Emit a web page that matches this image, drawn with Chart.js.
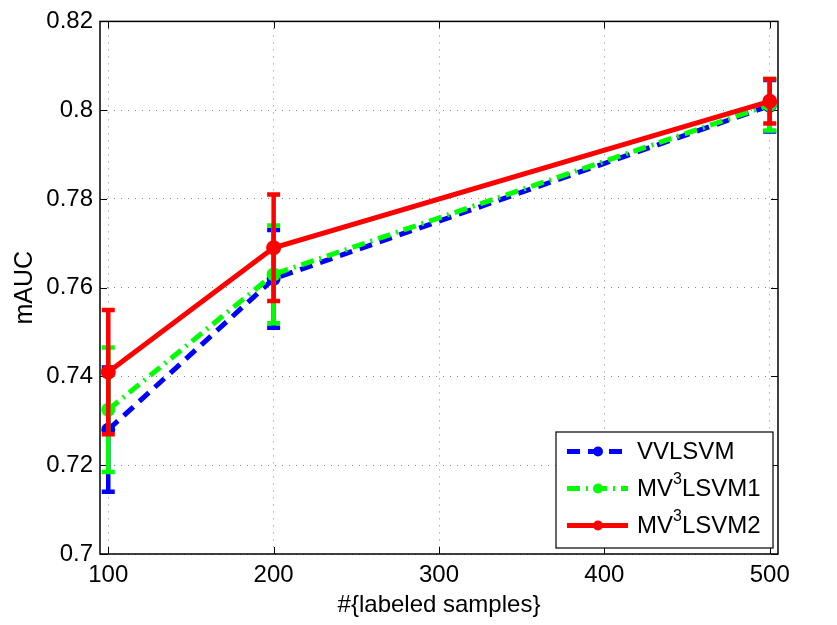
<!DOCTYPE html>
<html>
<head>
<meta charset="utf-8">
<script src="https://cdn.jsdelivr.net/npm/chart.js@4.4.1/dist/chart.umd.min.js"></script>
<style>
    html, body { margin: 0; padding: 0; background: #fff; }
    #wrap { width: 837px; height: 625px; }
</style>
</head>
<body>
<div id="wrap"><canvas id="aucChart"></canvas></div>
<script>
// =====================================
// mAUC vs #labeled samples (error bars)
// =====================================
const sampleSizes = [100, 200, 500];
const xTicks = [100, 200, 300, 400, 500];
const yTicks = [0.7, 0.72, 0.74, 0.76, 0.78, 0.8, 0.82];

const vvlsvm = [0.728, 0.762, 0.801];
const vvlsvmErr = [0.014, 0.011, 0.0058];
const mv3lsvm1 = [0.7325, 0.763, 0.8012];
const mv3lsvm1Err = [0.014, 0.011, 0.0058];
const mv3lsvm2 = [0.741, 0.769, 0.802];
const mv3lsvm2Err = [0.014, 0.012, 0.005];

// every second part is drawn as a superscript
const legendLabels = [["VVLSVM"], ["MV", "3", "LSVM1"], ["MV", "3", "LSVM2"]];

const family = "'Liberation Sans', Arial, Helvetica, sans-serif";
Chart.defaults.font.family = family;
Chart.defaults.color = "#000";

const points = vals => vals.map((v, i) => ({ x: sampleSizes[i], y: v }));

// vertical bars with caps, drawn right after each series
const errorBars = {
    id: "errorBars",
    afterDatasetDraw(chart, args) {
        const ds = chart.data.datasets[args.index];
        const yScale = chart.scales.y;
        const ctx = chart.ctx;
        ctx.save();
        ctx.strokeStyle = ds.borderColor;
        ctx.lineWidth = 4.5;
        ctx.setLineDash([]);
        args.meta.data.forEach((pt, i) => {
            const v = ds.data[i].y, e = ds.errors[i];
            const top = yScale.getPixelForValue(v + e);
            const bot = yScale.getPixelForValue(v - e);
            ctx.beginPath();
            ctx.moveTo(pt.x, top); ctx.lineTo(pt.x, bot);
            ctx.moveTo(pt.x - 6.5, top); ctx.lineTo(pt.x + 6.5, top);
            ctx.moveTo(pt.x - 6.5, bot); ctx.lineTo(pt.x + 6.5, bot);
            ctx.stroke();
        });
        ctx.restore();
    }
};

// matlab style box with inward ticks
const axesBox = {
    id: "axesBox",
    beforeDatasetsDraw(chart) {
        const { ctx, chartArea: a, scales } = chart;
        ctx.save();
        ctx.strokeStyle = "#000";
        ctx.lineWidth = 1;
        ctx.beginPath();
        xTicks.forEach(t => {
            const x = Math.round(scales.x.getPixelForValue(t)) + 0.5;
            ctx.moveTo(x, a.bottom); ctx.lineTo(x, a.bottom - 7);
            ctx.moveTo(x, a.top); ctx.lineTo(x, a.top + 7);
        });
        yTicks.forEach(t => {
            const y = Math.round(scales.y.getPixelForValue(t)) + 0.5;
            ctx.moveTo(a.left, y); ctx.lineTo(a.left + 7, y);
            ctx.moveTo(a.right, y); ctx.lineTo(a.right - 7, y);
        });
        ctx.stroke();
        ctx.lineWidth = 1.5;
        ctx.strokeRect(a.left, a.top, a.right - a.left, a.bottom - a.top);
        ctx.restore();
    }
};

const boxLegend = {
    id: "boxLegend",
    afterDraw(chart) {
        const { ctx, chartArea: a } = chart;
        const right = a.right - 5, bottom = a.bottom - 6;
        const left = right - 217, top = bottom - 116;
        ctx.save();
        ctx.fillStyle = "#fff";
        ctx.fillRect(left, top, right - left, bottom - top);
        ctx.strokeStyle = "#000";
        ctx.lineWidth = 1.2;
        ctx.strokeRect(left, top, right - left, bottom - top);
        chart.data.datasets.forEach((ds, i) => {
            const y = top + 19.5 + i * 37;
            ctx.strokeStyle = ds.borderColor;
            ctx.lineWidth = ds.borderWidth;
            ctx.setLineDash(ds.borderDash || []);
            ctx.beginPath();
            ctx.moveTo(left + 11, y); ctx.lineTo(left + 72, y);
            ctx.stroke();
            ctx.setLineDash([]);
            ctx.fillStyle = ds.borderColor;
            ctx.beginPath();
            ctx.arc(left + 42, y, 5, 0, 2 * Math.PI);
            ctx.fill();
            let x = left + 81;
            ctx.fillStyle = "#000";
            ctx.textAlign = "left";
            ctx.textBaseline = "middle";
            legendLabels[i].forEach((part, k) => {
                const sup = k % 2 === 1;
                ctx.font = (sup ? "16px " : "24px ") + family;
                ctx.fillText(part, x, sup ? y - 9 : y + 1);
                x += ctx.measureText(part).width;
            });
        });
        ctx.restore();
    }
};

new Chart(document.getElementById("aucChart"), {
    type: "line",
    data: {
        datasets: [{
            label: "VVLSVM",
            data: points(vvlsvm),
            errors: vvlsvmErr,
            borderColor: "#0000ff",
            backgroundColor: "#0000ff",
            borderWidth: 5,
            borderDash: [13, 8],
            pointRadius: 7,
            pointBorderWidth: 0,
            order: 3
        }, {
            label: "MV3LSVM1",
            data: points(mv3lsvm1),
            errors: mv3lsvm1Err,
            borderColor: "#00ff00",
            backgroundColor: "#00ff00",
            borderWidth: 5,
            borderDash: [13, 6, 2, 6],
            pointRadius: 7,
            pointBorderWidth: 0,
            order: 2
        }, {
            label: "MV3LSVM2",
            data: points(mv3lsvm2),
            errors: mv3lsvm2Err,
            borderColor: "#ff0000",
            backgroundColor: "#ff0000",
            borderWidth: 5,
            pointRadius: 7.5,
            pointBorderWidth: 0,
            order: 1
        }]
    },
    options: {
        responsive: true,
        maintainAspectRatio: false,
        animation: false,
        layout: { padding: { top: 21, right: 59, left: 0, bottom: 0 } },
        plugins: {
            legend: { display: false },
            tooltip: { enabled: false }
        },
        scales: {
            x: {
                type: "linear",
                min: 95,
                max: 505,
                afterBuildTicks: s => { s.ticks = xTicks.map(v => ({ value: v })); },
                afterFit: s => { s.height = 71; },
                grid: { color: "#8a8a8a", drawTicks: false },
                border: { display: false, dash: [1, 6] },
                ticks: { font: { size: 24 }, padding: 7, maxRotation: 0 },
                title: {
                    display: true,
                    text: "#{labeled samples}",
                    font: { size: 24 },
                    padding: { top: 0, bottom: 5 }
                }
            },
            y: {
                min: 0.7,
                max: 0.82,
                afterBuildTicks: s => { s.ticks = yTicks.map(v => ({ value: v })); },
                afterFit: s => { s.width = 100; },
                grid: { color: "#8a8a8a", drawTicks: false },
                border: { display: false, dash: [1, 6] },
                ticks: {
                    font: { size: 24 },
                    padding: 7,
                    callback: v => Number(v.toFixed(2)).toString()
                },
                title: {
                    display: true,
                    text: "mAUC",
                    font: { size: 25 },
                    padding: { top: 10, bottom: 0 }
                }
            }
        }
    },
    plugins: [errorBars, axesBox, boxLegend]
});
</script>
</body>
</html>
